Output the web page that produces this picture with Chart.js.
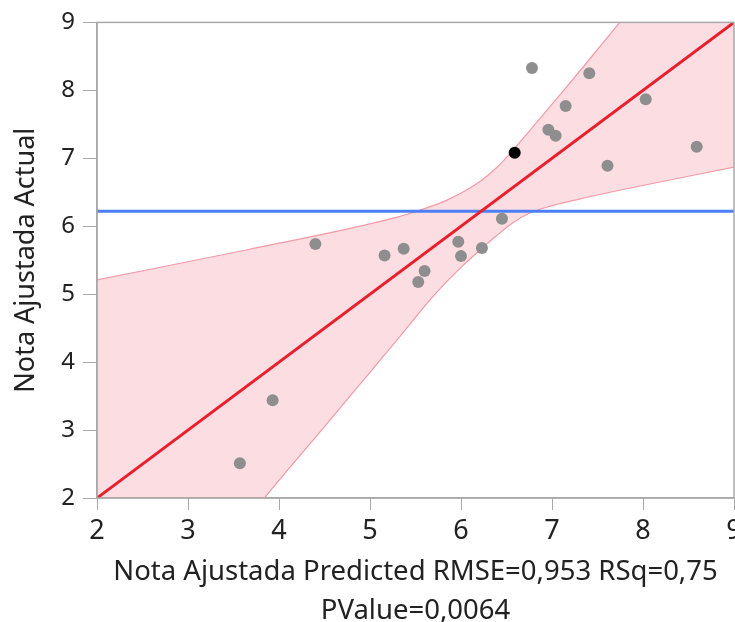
<!DOCTYPE html>
<html>
<head>
<meta charset="utf-8">
<script src="https://cdn.jsdelivr.net/npm/chart.js@4/dist/chart.umd.min.js"></script>
<style>
  html, body { margin: 0; padding: 0; background: #fff; overflow: hidden; }
  #wrap { width: 735px; height: 622px; overflow: hidden; }
</style>
</head>
<body>
<div id="wrap"><canvas id="fitChart" width="750" height="631"></canvas></div>
<script>
    // actual vs predicted points
    const predicted = [3.57, 3.93, 4.40, 5.16, 5.37, 5.53, 5.60, 5.97, 6.00, 6.23, 6.45, 6.78, 6.96, 7.04, 7.15, 7.41, 7.61, 8.03, 8.59];
    const actual    = [2.51, 3.44, 5.74, 5.57, 5.67, 5.18, 5.34, 5.77, 5.56, 5.68, 6.11, 8.33, 7.42, 7.33, 7.77, 8.25, 6.89, 7.87, 7.17];
    const highlightX = [6.59];
    const highlightY = [7.08];

    // fit line, mean line
    const fitX = [2, 9];
    const fitY = [2, 9];
    const meanY = 6.22;

    // confidence band edges
    const upperX = [2.0, 3.64, 5.29, 5.51, 5.84, 6.20, 6.39, 6.57, 6.75, 6.94, 7.11, 7.34, 7.72, 9.0];
    const upperY = [5.21, 5.65, 6.13, 6.22, 6.38, 6.65, 6.86, 7.12, 7.40, 7.70, 7.97, 8.34, 8.96, 11.1];
    const lowerX = [2.0, 3.84, 4.50, 5.00, 5.30, 5.65, 5.84, 6.02, 6.20, 6.39, 6.57, 6.75, 6.94, 7.30, 7.74, 9.0];
    const lowerY = [-1.15, 2.0, 3.05, 3.85, 4.33, 4.90, 5.18, 5.42, 5.64, 5.86, 6.05, 6.19, 6.28, 6.40, 6.53, 6.87];

    const xTitle = ['Nota Ajustada Predicted RMSE=0,953 RSq=0,75', 'PValue=0,0064'];
    const yTitle = 'Nota Ajustada Actual';

    const FONT = "'Noto Sans', 'Open Sans', sans-serif";
    const AXIS_GREY = '#a8a8a8';
    const toPoints = (xs, ys) => xs.map((x, i) => ({ x: x, y: ys[i] }));

    const framePlugin = {
        id: 'frame',
        afterDatasetsDraw(chart) {
            const a = chart.chartArea;
            const ctx = chart.ctx;
            ctx.save();
            ctx.strokeStyle = AXIS_GREY;
            ctx.lineWidth = 1.5;
            ctx.strokeRect(a.left, a.top, a.right - a.left, a.bottom - a.top);
            ctx.restore();
        }
    };

    const ctx = document.getElementById('fitChart').getContext('2d');
    new Chart(ctx, {
        type: 'scatter',
        data: {
            datasets: [
                {
                    label: 'upper',
                    type: 'line',
                    data: toPoints(upperX, upperY),
                    borderColor: '#f29aa6',
                    borderWidth: 1.2,
                    backgroundColor: 'rgba(245,160,172,0.35)',
                    pointRadius: 0,
                    cubicInterpolationMode: 'monotone',
                    fill: '+1',
                    order: 5
                },
                {
                    label: 'lower',
                    type: 'line',
                    data: toPoints(lowerX, lowerY),
                    borderColor: '#f29aa6',
                    borderWidth: 1.2,
                    pointRadius: 0,
                    cubicInterpolationMode: 'monotone',
                    fill: false,
                    order: 4
                },
                {
                    label: 'mean',
                    type: 'line',
                    data: toPoints(fitX, [meanY, meanY]),
                    borderColor: '#4c7ff5',
                    borderWidth: 3,
                    pointRadius: 0,
                    fill: false,
                    order: 3
                },
                {
                    label: 'fit',
                    type: 'line',
                    data: toPoints(fitX, fitY),
                    borderColor: '#e8202e',
                    borderWidth: 3,
                    pointRadius: 0,
                    fill: false,
                    order: 2
                },
                {
                    label: 'points',
                    data: toPoints(predicted, actual),
                    backgroundColor: '#8e8e8e',
                    borderWidth: 0,
                    pointRadius: 6,
                    order: 1
                },
                {
                    label: 'selected',
                    data: toPoints(highlightX, highlightY),
                    backgroundColor: '#000000',
                    borderWidth: 0,
                    pointRadius: 6,
                    order: 0
                }
            ]
        },
        options: {
            responsive: false,
            animation: false,
            layout: { padding: { top: 17, right: 16, left: 0, bottom: 0 } },
            plugins: {
                legend: { display: false },
                tooltip: { enabled: false }
            },
            scales: {
                x: {
                    type: 'linear',
                    min: 2,
                    max: 9,
                    afterFit: scale => { scale.height = 133; },
                    ticks: {
                        stepSize: 1,
                        color: '#222',
                        padding: 5,
                        font: { family: FONT, size: 27 }
                    },
                    grid: { drawOnChartArea: false, drawTicks: true, tickLength: 12, color: AXIS_GREY },
                    border: { display: true, color: AXIS_GREY, width: 1.5 },
                    title: {
                        display: true,
                        text: xTitle,
                        color: '#222',
                        padding: 0,
                        font: { family: FONT, size: 27.5, lineHeight: 1.42 }
                    }
                },
                y: {
                    type: 'linear',
                    min: 2,
                    max: 9,
                    afterFit: scale => { scale.width = 97; },
                    ticks: {
                        stepSize: 1,
                        color: '#222',
                        padding: 8,
                        font: { family: FONT, size: 24 }
                    },
                    grid: { drawOnChartArea: false, drawTicks: true, tickLength: 14, color: AXIS_GREY },
                    border: { display: true, color: AXIS_GREY, width: 1.5 },
                    title: {
                        display: true,
                        text: yTitle,
                        color: '#222',
                        padding: { top: 10, bottom: 0 },
                        font: { family: FONT, size: 27 }
                    }
                }
            }
        },
        plugins: [framePlugin]
    });
</script>
</body>
</html>
